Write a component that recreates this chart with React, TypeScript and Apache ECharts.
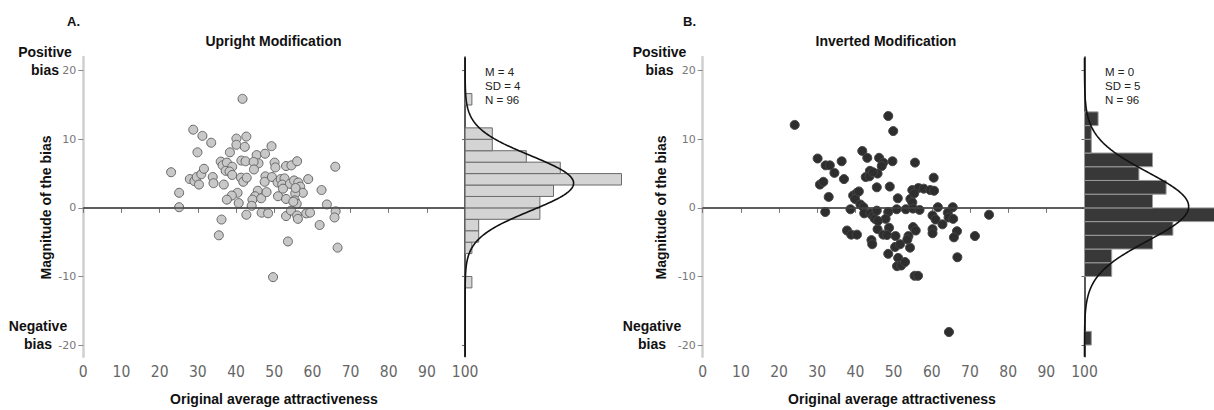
import React, { useEffect, useRef } from "react";
import * as echarts from "echarts";

// ---------- data ----------
const uprightX = [41.7, 28.8, 31.2, 33.5, 29.9, 40.1, 42.7, 40.1, 42.3, 49.3, 38.4, 41.4, 42.5, 45.4, 47.6, 45.9, 44.6, 50.1, 50.3, 44.7, 53.1, 54.5, 56.0, 66.0, 23.0, 27.9, 29.1, 29.7, 30.3, 30.9, 31.6, 33.9, 34.1, 36.8, 36.0, 36.5, 37.6, 39.0, 37.3, 38.3, 39.0, 41.3, 41.9, 42.8, 47.7, 47.5, 49.4, 50.9, 51.7, 52.7, 52.1, 54.1, 55.2, 56.3, 58.9, 56.8, 57.5, 55.5, 62.4, 63.8, 45.7, 45.0, 44.3, 46.6, 44.1, 40.4, 38.9, 37.6, 40.7, 51.0, 53.1, 55.4, 55.9, 25.1, 25.1, 36.2, 35.5, 42.7, 46.7, 48.4, 53.1, 54.4, 56.0, 56.2, 58.4, 59.4, 61.9, 66.1, 65.8, 53.6, 66.6, 49.7, 55.6, 48.0, 52.3, 55.0];
const uprightY = [15.9, 11.4, 10.5, 9.5, 8.1, 10.1, 10.4, 9.2, 8.9, 9.0, 8.1, 6.9, 6.8, 7.7, 7.9, 6.5, 6.7, 6.6, 5.9, 5.6, 6.1, 6.2, 6.8, 6.0, 5.2, 4.2, 3.9, 4.5, 3.4, 4.9, 5.7, 4.5, 3.6, 3.4, 6.75, 6.2, 6.6, 6.0, 5.4, 5.3, 4.8, 4.4, 3.8, 4.4, 4.6, 3.8, 4.5, 3.7, 4.2, 4.3, 3.4, 3.5, 4.0, 3.7, 4.2, 3.1, 2.2, 2.1, 2.6, 0.5, 2.5, 1.7, 1.2, 1.4, 0.3, 2.2, 1.8, 1.2, 0.7, 1.7, 1.3, 1.1, 0.6, 2.2, 0.1, -1.7, -4.0, -1.0, -0.7, -0.8, -1.2, -0.4, -1.1, -1.6, -0.8, -0.7, -2.5, -0.5, -1.4, -4.9, -5.8, -10.1, 2.9, 2.3, 2.8, 0.9];

const invertedX = [24.1, 48.6, 49.9, 30.1, 32.2, 33.3, 34.5, 36.4, 37.0, 30.7, 31.6, 33.0, 32.1, 41.8, 43.1, 46.2, 47.3, 46.9, 49.7, 55.6, 43.8, 45.8, 42.7, 43.7, 45.6, 49.0, 60.5, 54.9, 56.5, 57.9, 59.6, 60.6, 39.4, 40.4, 39.9, 51.1, 54.4, 54.9, 38.7, 41.3, 42.1, 42.3, 43.9, 44.6, 45.1, 45.6, 48.6, 47.9, 50.8, 53.2, 55.1, 56.8, 60.2, 61.0, 61.6, 64.2, 65.5, 64.4, 65.6, 62.8, 75.0, 60.2, 60.2, 45.8, 48.8, 55.1, 55.8, 37.8, 38.9, 40.4, 47.3, 48.3, 50.5, 53.9, 66.6, 65.8, 71.3, 44.2, 44.4, 50.4, 51.7, 54.3, 48.6, 51.2, 66.7, 50.9, 52.0, 53.0, 55.5, 56.4, 64.5, 44.6, 40.9, 55.4, 45.9, 53.6];
const invertedY = [12.1, 13.4, 11.2, 7.2, 6.2, 6.2, 5.1, 6.8, 4.2, 3.4, 3.8, 1.6, -0.6, 8.3, 7.3, 7.3, 6.6, 6.1, 6.8, 6.6, 5.4, 5.0, 4.5, 4.6, 3.0, 3.1, 4.4, 2.6, 2.9, 2.8, 2.6, 2.5, 1.8, 2.2, 1.3, 1.4, 1.3, 0.8, -0.2, 0.5, 0.1, -0.8, -0.8, -1.2, -1.6, -0.4, -0.6, -1.6, -0.2, -0.2, -0.1, -0.3, -1.1, -1.7, 0.1, -0.7, 0.1, -1.4, -1.6, -2.4, -1.0, -3.1, -3.7, -3.1, -2.9, -2.8, -3.3, -3.3, -3.9, -3.9, -3.9, -3.95, -4.1, -4.1, -3.4, -4.3, -4.1, -4.7, -5.3, -5.7, -5.3, -5.8, -6.7, -7.3, -7.2, -8.5, -8.4, -7.9, -9.9, -9.9, -18.1, 5.2, 2.4, 2.1, -1.9, -4.6];

// histogram bins (lower edge) and counts
const uprightBinWidth = 5 / 3;
const uprightBinLow = [-35 / 3, -20 / 3, -5, -10 / 3, -5 / 3, 0, 5 / 3, 10 / 3, 5, 20 / 3, 25 / 3, 10, 15];
const uprightBinCount = [1, 1, 2, 2, 11, 11, 13, 23, 14, 9, 4, 4, 1];

const invertedBinWidth = 2;
const invertedBinLow = [-20, -10, -8, -6, -4, -2, 0, 2, 4, 6, 8, 10, 12];
const invertedBinCount = [1, 4, 4, 10, 13, 20, 10, 12, 8, 10, 1, 1, 2];

// fitted normal curves (mean, sd)
const uprightFitMean = 3.6;
const uprightFitSd = 4;
const invertedFitMean = 0.2;
const invertedFitSd = 5;

const uprightStats = ["M = 4", "SD = 4", "N = 96"];
const invertedStats = ["M = 0", "SD = 5", "N = 96"];

const yTickValues = [-20, -10, 0, 10, 20];
const xMin = 0;
const xMax = 100;
const xInterval = 10;
const yMin = -21.7;
const yMax = 22;

// ---------- layout ----------
const GRID_TOP = 57;
const GRID_H = 299.7;
const SCATTER_W = 381.8;
const PX_PER_COUNT = 6.8;
const PANEL_A_LEFT = 83.3;
const PANEL_B_LEFT = 702.7;
const HIST_A_W = 160;
const HIST_B_W = 1214 - (PANEL_B_LEFT + SCATTER_W);

const TICK_FONT = "'Liberation Sans Narrow', 'DejaVu Sans Condensed', 'Roboto Condensed', 'Liberation Sans', sans-serif";
const LABEL_FONT = "'Liberation Sans', Arial, Helvetica, sans-serif";

function normalCurve(mean: number, sd: number, n: number, bw: number) {
  const pts: number[][] = [];
  for (let y = yMin; y <= yMax + 1e-9; y += 0.2) {
    const z = (y - mean) / sd;
    const c = (n * bw) / (sd * Math.sqrt(2 * Math.PI)) * Math.exp(-0.5 * z * z);
    pts.push([c, y]);
  }
  return pts;
}

function text(x: number, y: number, t: string, font: string, align: string, fill = "#111", rotation = 0) {
  return {
    type: "text",
    x,
    y,
    rotation,
    silent: true,
    style: {
      text: t,
      font,
      fill,
      textAlign: align,
      textVerticalAlign: "middle",
      align,
      verticalAlign: "middle",
    },
  };
}

function buildPanel(
  idx: number,
  left: number,
  histW: number,
  xs: number[],
  ys: number[],
  binLow: number[],
  binCount: number[],
  bw: number,
  fitMean: number,
  fitSd: number,
  dotFill: string,
  dotBorder: string,
  barFill: string,
  barStroke: string
) {
  const g0 = idx * 2;
  const g1 = idx * 2 + 1;
  const grids = [
    { left, top: GRID_TOP, width: SCATTER_W, height: GRID_H, containLabel: false },
    { left: left + SCATTER_W, top: GRID_TOP, width: histW, height: GRID_H, containLabel: false },
  ];
  const xAxes = [
    {
      type: "value",
      gridIndex: g0,
      min: xMin,
      max: xMax,
      interval: xInterval,
      splitLine: { show: false },
      axisLine: { show: true, lineStyle: { color: "#8a8a8a", width: 1.5 } },
      axisTick: { show: true, length: 5, lineStyle: { color: "#777", width: 1 } },
      axisLabel: { color: "#666", fontSize: 15.5, fontFamily: TICK_FONT, margin: 7 },
    },
    {
      type: "value",
      gridIndex: g1,
      min: 0,
      max: histW / PX_PER_COUNT,
      show: false,
      splitLine: { show: false },
    },
  ];
  const yAxes = [
    {
      type: "value",
      gridIndex: g0,
      min: yMin,
      max: yMax,
      splitLine: { show: false },
      axisLine: { show: true, onZero: false, lineStyle: { color: "#cfcfcf", width: 2.5 } },
      axisTick: { show: true, length: 5, customValues: yTickValues, lineStyle: { color: "#888", width: 1 } },
      axisLabel: { color: "#777", fontSize: 11, fontFamily: "'DejaVu Sans', sans-serif", margin: 7, customValues: yTickValues },
    },
    {
      type: "value",
      gridIndex: g1,
      min: yMin,
      max: yMax,
      splitLine: { show: false },
      axisLine: { show: true, onZero: false, lineStyle: { color: "#222", width: 1.5 } },
      axisTick: { show: true, length: 3, customValues: yTickValues, lineStyle: { color: "#666", width: 1 } },
      axisLabel: { show: false },
    },
  ];
  const pts = xs.map((x, i) => [x, ys[i]]);
  const bins = binLow.map((lo, i) => [lo, lo + bw, binCount[i]]);
  const series = [
    {
      type: "scatter",
      xAxisIndex: g0,
      yAxisIndex: g0,
      data: pts,
      symbolSize: 9,
      itemStyle: { color: dotFill, borderColor: dotBorder, borderWidth: 1, opacity: 1 },
      markLine: {
        silent: true,
        symbol: "none",
        label: { show: false },
        lineStyle: { color: "#444", width: 1.5, type: "solid" },
        data: [{ yAxis: 0 }],
      },
      z: 3,
    },
    {
      type: "custom",
      xAxisIndex: g1,
      yAxisIndex: g1,
      data: bins,
      encode: { x: 2, y: [0, 1] },
      renderItem: (params: any, api: any) => {
        const lo = api.value(0);
        const hi = api.value(1);
        const c = api.value(2);
        const a = api.coord([0, hi]);
        const b = api.coord([c, lo]);
        const cs = params.coordSys;
        const shape = echarts.graphic.clipRectByRect(
          { x: a[0], y: a[1], width: b[0] - a[0], height: b[1] - a[1] },
          { x: cs.x, y: cs.y, width: cs.width + 2, height: cs.height }
        );
        if (!shape) return null;
        return {
          type: "rect",
          shape,
          style: { fill: barFill, stroke: barStroke, lineWidth: 1 },
        };
      },
      z: 2,
    },
    {
      type: "line",
      xAxisIndex: g1,
      yAxisIndex: g1,
      data: normalCurve(fitMean, fitSd, xs.length, bw),
      showSymbol: false,
      symbol: "none",
      lineStyle: { color: "#111", width: 1.6 },
      z: 4,
    },
  ];
  return { grids, xAxes, yAxes, series };
}

export default function App() {
  const ref = useRef<HTMLDivElement>(null);
  useEffect(() => {
    if (!ref.current) return;
    const chart = echarts.init(ref.current, undefined, { renderer: "svg" });
    const a = buildPanel(0, PANEL_A_LEFT, HIST_A_W, uprightX, uprightY, uprightBinLow, uprightBinCount, uprightBinWidth, uprightFitMean, uprightFitSd, "#c8c8c8", "#666", "#d4d4d4", "#6b6b6b");
    const b = buildPanel(1, PANEL_B_LEFT, HIST_B_W, invertedX, invertedY, invertedBinLow, invertedBinCount, invertedBinWidth, invertedFitMean, invertedFitSd, "#2e2e2e", "#444", "#383838", "#9a9a9a");
    const TB = `bold 14px ${LABEL_FONT}`;
    const TS = `11.5px ${LABEL_FONT}`;
    const graphics: any[] = [
      text(67, 21, "A.", `bold 13px ${LABEL_FONT}`, "left"),
      text(273.5, 41, "Upright Modification", TB, "center"),
      text(45, 52, "Positive", TB, "center"),
      text(45, 69.5, "bias", TB, "center"),
      text(38, 326, "Negative", TB, "center"),
      text(38, 343.5, "bias", TB, "center"),
      text(46.3, 207.5, "Magnitude of the bias", TB, "center", "#111", Math.PI / 2),
      text(274, 399, "Original average attractiveness", TB, "center"),
      text(683, 21, "B.", `bold 13px ${LABEL_FONT}`, "left"),
      text(886, 41, "Inverted Modification", TB, "center"),
      text(659.5, 52, "Positive", TB, "center"),
      text(659.5, 69.5, "bias", TB, "center"),
      text(652, 326, "Negative", TB, "center"),
      text(652, 343.5, "bias", TB, "center"),
      text(661, 207.5, "Magnitude of the bias", TB, "center", "#111", Math.PI / 2),
      text(892, 399, "Original average attractiveness", TB, "center"),
    ];
    uprightStats.forEach((s, i) => graphics.push(text(485, 71.7 + i * 14.2, s, TS, "left", "#222")));
    invertedStats.forEach((s, i) => graphics.push(text(1105, 71.7 + i * 14.2, s, TS, "left", "#222")));

    chart.setOption({
      animation: false,
      backgroundColor: "#ffffff",
      grid: [...a.grids, ...b.grids],
      xAxis: [...a.xAxes, ...b.xAxes],
      yAxis: [...a.yAxes, ...b.yAxes],
      series: [...a.series, ...b.series],
      graphic: graphics,
    });
    return () => chart.dispose();
  }, []);
  return (
    <div
      ref={ref}
      style={{ position: "fixed", left: 0, top: 0, width: 1214, height: 410, overflow: "hidden", background: "#fff" }}
    />
  );
}
